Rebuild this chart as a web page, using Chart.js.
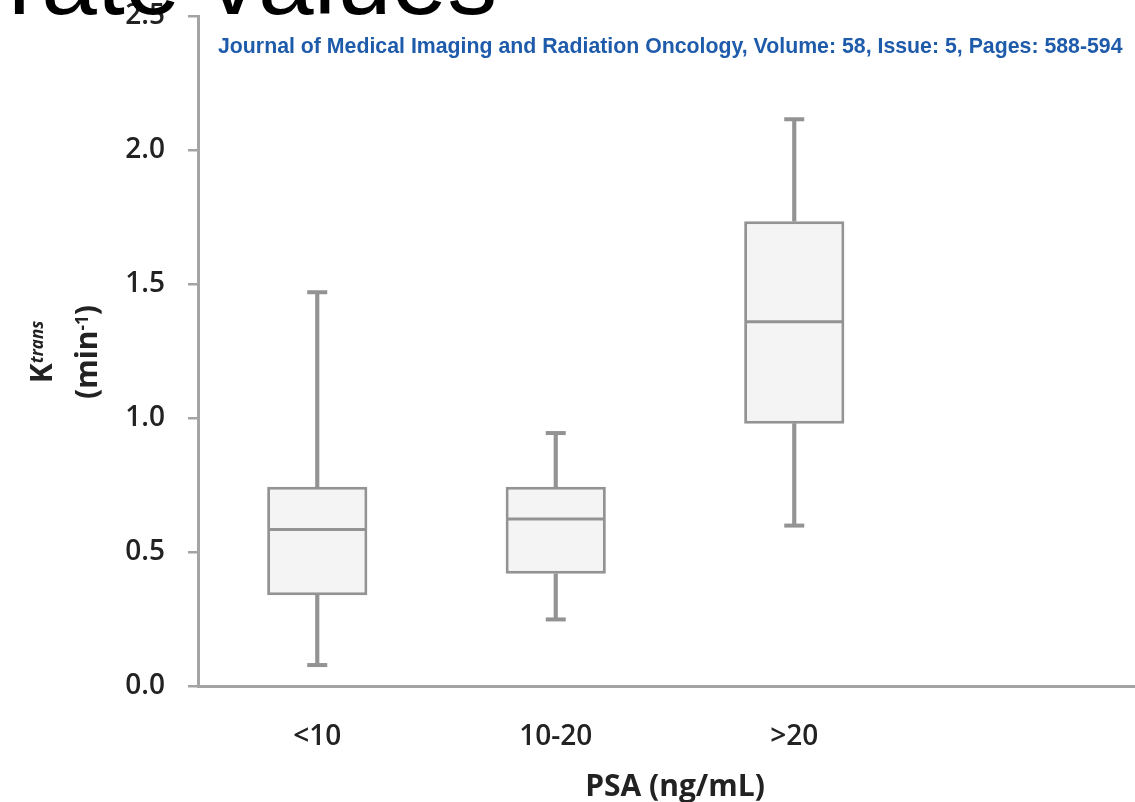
<!DOCTYPE html>
<html>
<head>
<meta charset="utf-8">
<script src="https://cdn.jsdelivr.net/npm/chart.js@4"></script>
<style>
  html, body { margin: 0; padding: 0; background: #fff; overflow: hidden; width: 1135px; height: 802px; }
  #wrap { position: absolute; left: 0; top: 0; width: 1152px; height: 802px; }
  #big { position: absolute; left: 8px; top: -71px; font: 400 100px "Liberation Sans", Arial, sans-serif; line-height: 100px; color: #000; white-space: nowrap; z-index: 2; }
  #journal { position: absolute; left: 218px; top: 34px; font: 700 21.3px "Liberation Sans", Arial, sans-serif; color: #1f5bab; white-space: nowrap; z-index: 2; }
  .ytitle { position: absolute; font-family: "Open Sans", sans-serif; font-weight: 700; font-size: 30px; color: #222; white-space: nowrap; transform: translate(-50%, -50%) rotate(-90deg); line-height: 1; }
  .ytitle sup { font-size: 17px; vertical-align: 0.55em; }
</style>
</head>
<body>
<div id="wrap"><canvas id="c" width="1152" height="802"></canvas></div>
<div id="big">rate values</div>
<div id="journal">Journal of Medical Imaging and Radiation Oncology, Volume: 58, Issue: 5, Pages: 588-594</div>
<div class="ytitle" style="left:41px; top:352px;">K<sup><i>trans</i></sup></div>
<div class="ytitle" style="left:86px; top:352px;">(min<sup>-1</sup>)</div>
<script>
// ---- data ----
const categories = ['<10', '10-20', '>20', ''];
const whiskerMin = [0.08, 0.25, 0.60];
const quartile1  = [0.34, 0.42, 0.98];
const medianVals = [0.585, 0.625, 1.36];
const quartile3  = [0.745, 0.745, 1.735];
const whiskerMax = [1.47, 0.945, 2.115];
const yTickValues = [0, 0.5, 1.0, 1.5, 2.0, 2.5];
const xTitle = 'PSA (ng/mL)';

const gray = '#939393';
const axisGray = '#a4a4a4';

const boxData = quartile1.map((v, i) => [v, quartile3[i]]);
const upperWhisk = quartile3.map((v, i) => [v, whiskerMax[i]]);
const lowerWhisk = whiskerMin.map((v, i) => [v, quartile1[i]]);

new Chart(document.getElementById('c'), {
  type: 'bar',
  data: {
    labels: categories,
    datasets: [
      { type: 'line', data: medianVals, showLine: false, pointStyle: 'line', pointRadius: 48, pointHoverRadius: 48,
        borderColor: gray, pointBorderWidth: 3, order: 0, clip: false },
      { type: 'line', data: whiskerMax, showLine: false, pointStyle: 'line', pointRadius: 10, pointHoverRadius: 10,
        borderColor: gray, pointBorderWidth: 4, order: 0, clip: false },
      { type: 'line', data: whiskerMin, showLine: false, pointStyle: 'line', pointRadius: 10, pointHoverRadius: 10,
        borderColor: gray, pointBorderWidth: 4, order: 0, clip: false },
      { data: boxData, backgroundColor: '#f4f4f4', borderColor: gray, borderWidth: 3, borderSkipped: false,
        barPercentage: 0.42, categoryPercentage: 1, grouped: false, order: 1 },
      { data: upperWhisk, backgroundColor: gray, borderWidth: 0, barThickness: 3.5, grouped: false, order: 2 },
      { data: lowerWhisk, backgroundColor: gray, borderWidth: 0, barThickness: 3.5, grouped: false, order: 2 }
    ]
  },
  options: {
    responsive: false,
    devicePixelRatio: 1,
    animation: false,
    layout: { autoPadding: false, padding: { left: 0, right: 0, top: 16, bottom: 0 } },
    plugins: { legend: { display: false }, tooltip: { enabled: false } },
    scales: {
      x: {
        grid: { display: true, drawOnChartArea: false, drawTicks: false },
        border: { display: true, color: axisGray, width: 3 },
        ticks: { color: '#222', font: { family: 'Open Sans', size: 28, weight: '600' }, padding: 34 },
        title: { display: true, text: xTitle, color: '#222', font: { family: 'Open Sans', size: 30, weight: '700' }, padding: { top: 8, bottom: -3 } },
        afterFit: (s) => { s.height = 115.5; s.paddingLeft = 0; s.paddingRight = 0; }
      },
      y: {
        min: 0, max: 2.5,
        afterBuildTicks: (s) => { s.ticks = yTickValues.map(v => ({ value: v })); },
        grid: { display: true, drawOnChartArea: false, drawTicks: true, tickLength: 10, color: axisGray, lineWidth: 2.5 },
        border: { display: true, color: axisGray, width: 3 },
        ticks: { color: '#222', font: { family: 'Open Sans', size: 28, weight: '600' }, padding: 23,
          callback: (v) => Number(v).toFixed(1) },
        afterFit: (s) => { s.width = 198; s.paddingTop = 0; s.paddingBottom = 0; }
      }
    }
  }
});
</script>
</body>
</html>
